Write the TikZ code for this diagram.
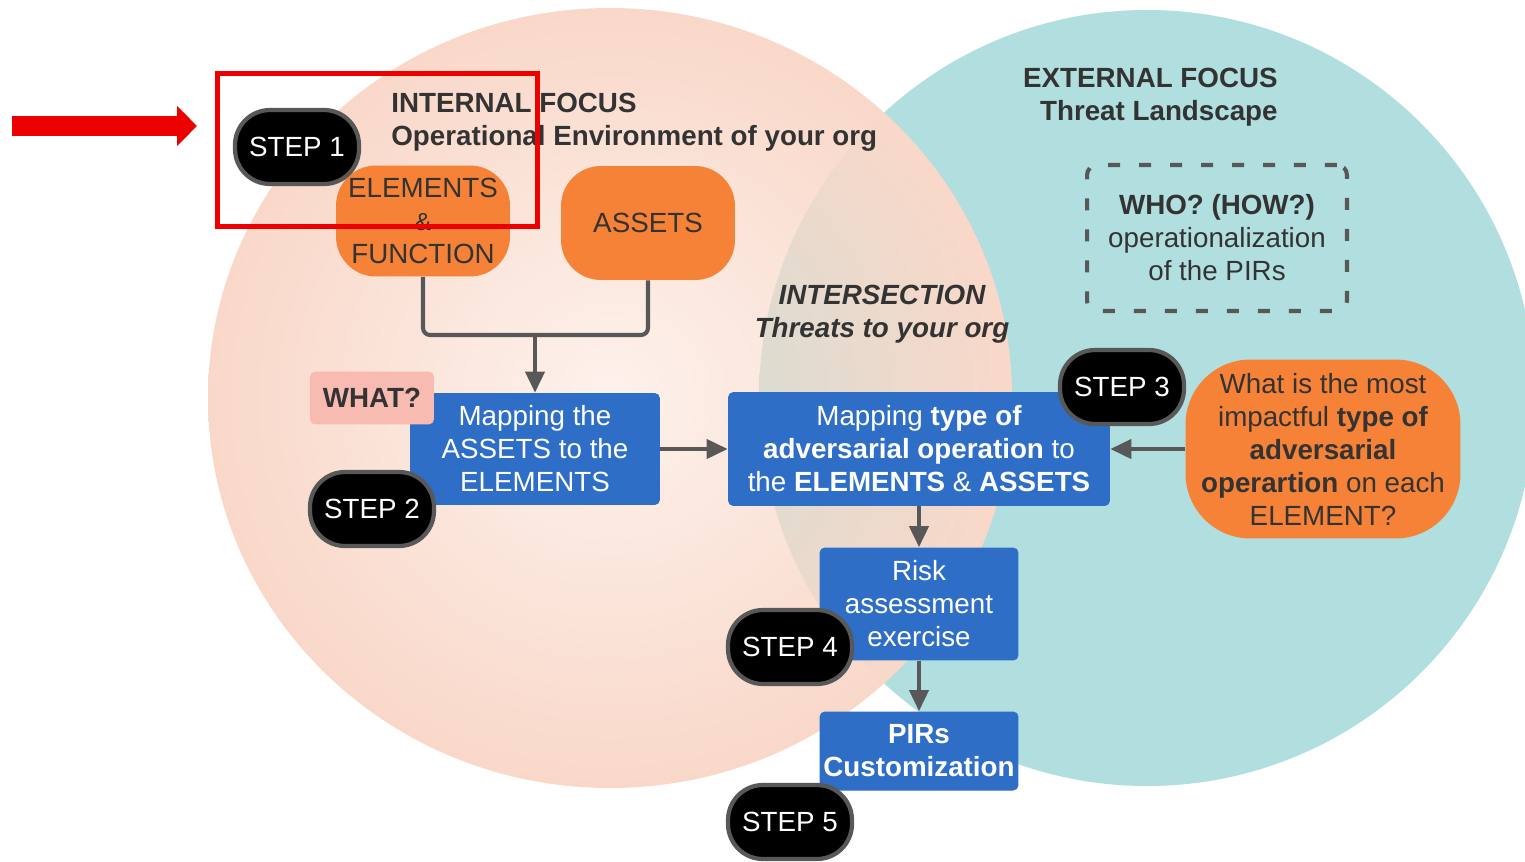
\documentclass[tikz,border=0pt]{standalone}
\usepackage{fontspec}
\setmainfont{Liberation Sans}
\usepackage{xcolor}
\definecolor{pirblue}{RGB}{47,110,198}
\definecolor{pirorange}{RGB}{245,130,55}
\definecolor{pirpink}{RGB}{248,187,178}
\definecolor{pirteal}{RGB}{177,222,222}
\definecolor{pirpeach}{RGB}{249,216,201}
\definecolor{pirpeachlight}{RGB}{253,242,236}
\definecolor{pirmix}{RGB}{204,222,212}
\definecolor{pirgray}{RGB}{88,88,88}
\definecolor{pirtext}{RGB}{51,51,51}
\definecolor{pirred}{RGB}{236,0,0}
\usetikzlibrary{arrows.meta, positioning, shapes.geometric}

\newcommand{\pirfont}{\fontsize{15.8}{18.8}\selectfont}

\tikzset{
  stepnode/.style={font=\pirfont, draw=pirgray, line width=2.4pt, fill=black, text=white,
    minimum width=2.48cm, minimum height=1.48cm, rounded corners=0.7cm, inner sep=0pt},
  bluebox/.style={font=\pirfont, fill=pirblue, text=white, align=center,
    rounded corners=3pt, inner sep=0pt},
  orangebox/.style={font=\pirfont, fill=pirorange, text=pirtext, align=center, inner sep=0pt},
  titletext/.style={font=\pirfont\bfseries, text=pirtext, inner sep=0pt},
  conn/.style={draw=pirgray, line width=2.3pt, rounded corners=4pt},
  flow/.style={conn, -{Triangle[width=0.38cm,length=0.42cm]}},
  pointer/.style={draw=pirred, line width=0.4cm, -{Triangle[width=0.78cm,length=0.4cm]}}
}

\begin{document}
\begin{tikzpicture}[x=0.02cm, y=-0.02cm]
  \useasboundingbox (0,0) rectangle (1525,862);
  \fill[white] (0,0) rectangle (1525,862);

  % Circles -- external focus, internal focus and their intersection
  \coordinate (extc) at (1147,398);
  \coordinate (intc) at (610,398);
  \fill[pirteal] (extc) ellipse [x radius=388, y radius=388];
  \shade[inner color=pirpeachlight, outer color=pirpeach]
       (intc) ellipse [x radius=402, y radius=390];
  \begin{scope}
    \clip (extc) ellipse [x radius=388, y radius=388];
    \shade[inner color=pirmix, outer color=pirpeach]
         (intc) ellipse [x radius=402, y radius=390];
  \end{scope}

  % Titles
  \node[titletext, anchor=west, align=left] (intitle) at (391,122)
       {INTERNAL FOCUS\\Operational Environment of your org};
  \node[titletext, anchor=east, align=right] (extitle) at (1278,97)
       {EXTERNAL FOCUS\\Threat Landscape};
  \node[titletext, font=\pirfont\bfseries\itshape, align=center] (crosstitle) at (882,314)
       {INTERSECTION\\Threats to your org};

  % Who / how box
  \node[font=\pirfont, text=pirtext, align=center, draw=pirgray, line width=2.3pt,
        dash pattern=on 0.24cm off 0.38cm, rounded corners=0.2cm,
        minimum width=5.2cm, minimum height=2.92cm] (who) at (1217,238)
       {\textbf{WHO? (HOW?)}\\operationalization\\of the PIRs};

  % Step 1 -- elements and assets
  \node[orangebox, minimum width=3.48cm, minimum height=2.22cm, rounded corners=0.8cm]
       (elem) at (423,221)
       {ELEMENTS\\{\fontsize{14}{18.8}\selectfont\&}\\FUNCTION};
  \node[orangebox, minimum width=3.48cm, minimum height=2.28cm, rounded corners=0.8cm]
       (assets) at (648,223) {ASSETS};

  % Step 2 -- what?
  \node[bluebox, minimum width=5cm, minimum height=2.24cm] (map1) at (535,449)
       {Mapping the\\ASSETS to the\\ELEMENTS};
  \node[font=\pirfont\bfseries, text=pirtext, fill=pirpink, rounded corners=3pt,
        minimum width=2.48cm, minimum height=1.06cm, inner sep=0pt] (what) at (372,398) {WHAT?};

  % Step 3 -- adversarial operations
  \node[bluebox, minimum width=7.64cm, minimum height=2.28cm] (map2) at (919,449)
       {Mapping \textbf{type of}\\\textbf{adversarial operation} to\\the \textbf{ELEMENTS} \& \textbf{ASSETS}};
  \node[orangebox, minimum width=5.5cm, minimum height=3.58cm, rounded corners=1.3cm]
       (threat) at (1323,449)
       {What is the most\\impactful \textbf{type of}\\\textbf{adversarial}\\\textbf{operartion} on each\\ELEMENT?};

  % Step 4 and 5
  \node[bluebox, minimum width=3.98cm, minimum height=2.26cm] (risk) at (919,604)
       {Risk\\assessment\\exercise};
  \node[bluebox, font=\pirfont\bfseries, minimum width=3.98cm, minimum height=1.58cm]
       (pirs) at (919,751) {PIRs\\Customization};

  % Connectors
  \coordinate (join) at (535,335);
  \draw[conn] (elem.south) |- (join);
  \draw[conn] (assets.south) |- (join);
  \draw[flow] (join) -- (map1.north);
  \draw[flow] (map1.east) -- (map2.west);
  \draw[flow] (threat.west) -- (threat.west -| map2.east);
  \draw[flow] (map2.south) -- (risk.north);
  \draw[flow] (risk.south) -- (pirs.north);

  % Step badges
  \node[stepnode] (step1) at (297,147) {STEP 1};
  \node[stepnode] (step2) at (372,509) {STEP 2};
  \node[stepnode] (step3) at (1122,387) {STEP 3};
  \node[stepnode] (step4) at (790,647) {STEP 4};
  \node[stepnode] (step5) at (790,822) {STEP 5};

  % Highlight of step 1
  \draw[pirred, line width=0.1cm] (217,73) rectangle (537,226);
  \coordinate (ptail) at (12,126);
  \coordinate (ptip) at (197,126);
  \draw[pointer] (ptail) -- (ptip);
\end{tikzpicture}
\end{document}
